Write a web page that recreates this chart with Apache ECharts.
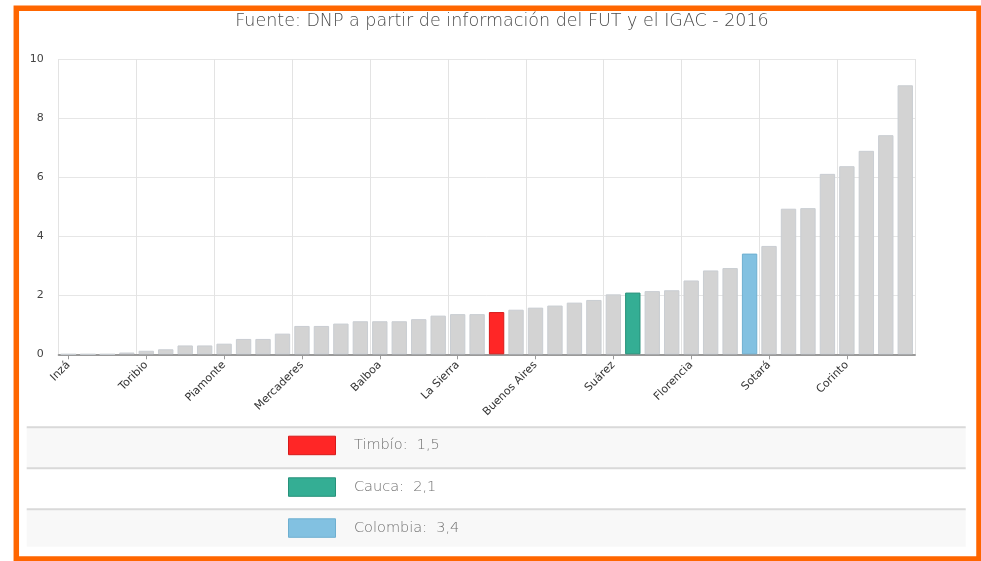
<!DOCTYPE html>
<html>
<head>
<meta charset="utf-8">
<script src="https://cdn.jsdelivr.net/npm/echarts@6/dist/echarts.min.js"></script>
<style>
html,body{margin:0;padding:0;background:#fff;}
#chart{width:981px;height:561px;}
</style>
</head>
<body>
<div id="chart"></div>
<script>
// ---- data ----
var categories = ['Inzá','Páez','Jambaló','Silvia','Toribio','Totoró','Caldono','Argelia','Piamonte','Guapí','Timbiquí','López de Micay','Mercaderes','Almaguer','Bolívar','Sucre','Balboa','Patía','Rosas','La Vega','La Sierra','San Sebastián','Timbío','Santa Rosa','Buenos Aires','Cajibío','Morales','El Tambo','Suárez','Cauca','Piendamó','Puracé','Florencia','Caloto','Guachené','Colombia','Sotará','Miranda','Padilla','Villa Rica','Corinto','Santander de Quilichao','Puerto Tejada','Popayán'];
var values = [0,0,0,0.06,0.12,0.17,0.30,0.30,0.36,0.52,0.52,0.70,0.96,0.96,1.04,1.12,1.12,1.12,1.19,1.31,1.36,1.36,1.43,1.51,1.58,1.65,1.75,1.84,2.03,2.09,2.14,2.17,2.50,2.84,2.92,3.41,3.67,4.93,4.95,6.11,6.37,6.89,7.42,9.11];
var highlightNames = ['Timbío','Cauca','Colombia'];
var highlightLabels = ['1,5','2,1','3,4'];
var yTicks = [0,2,4,6,8,10];
var subtitle = 'Fuente: DNP a partir de información del FUT y el IGAC - 2016';

// ---- styles ----
var hlColors = ['#ff2626','#34ae94','#82c1e1'];
var hlBorders = ['#d61a1a','#27917a','#6eafd0'];
var baseColor = '#d3d3d3';
var baseBorder = '#c9cdd2';

var barData = values.map(function(v,i){
  var k = highlightNames.indexOf(categories[i]);
  return {
    value: v,
    itemStyle: k >= 0 ? {color: hlColors[k], borderColor: hlBorders[k], borderWidth: 1}
                      : {color: baseColor, borderColor: baseBorder, borderWidth: 1}
  };
});

var graphics = [];
// legend table rows
var rowTops = [427.3, 468.3, 509.3];
var rowH = [41, 41, 37.4];
rowTops.forEach(function(t,i){
  if (i !== 1) {
    graphics.push({type:'rect', shape:{x:26.7, y:t, width:939, height:rowH[i]}, style:{fill:'#f8f8f8'}, silent:true, z:0});
  }
  graphics.push({type:'line', shape:{x1:26.7, y1:t, x2:965.7, y2:t}, style:{stroke:'#d9d9d9', lineWidth:2}, silent:true, z:1});
});
var boxTops = [435.7, 477.3, 518.3];
highlightNames.forEach(function(n,i){
  graphics.push({type:'rect', shape:{x:288.5, y:boxTops[i]+0.5, width:47, height:18.5},
    style:{fill:hlColors[i], stroke:hlBorders[i], lineWidth:1}, silent:true, z:2});
  graphics.push({type:'text', x:354, y:boxTops[i]+10, style:{text:n+':  '+highlightLabels[i], fill:'#707070',
    font:'300 14.5px "DejaVu Sans"', textVerticalAlign:'middle', textAlign:'left'}, silent:true, z:2});
});
// subtitle
graphics.push({type:'text', x:502, y:21, style:{text:subtitle, fill:'#4a4a4a', font:'300 17.5px "DejaVu Sans"',
  textAlign:'center', textVerticalAlign:'middle'}, silent:true, z:2});
// orange frame
graphics.push({type:'rect', shape:{x:16.3, y:8.3, width:962.7, height:550.7},
  style:{fill:'none', stroke:'#ff6600', lineWidth:5.5}, silent:true, z:5});

var chart = echarts.init(document.getElementById('chart'), null, {renderer:'canvas'});
chart.setOption({
  backgroundColor:'#fff',
  animation:false,
  grid:{left:58.7, right:66, top:59, bottom:206.7, containLabel:false},
  xAxis:{
    type:'category',
    data:categories,
    boundaryGap:true,
    axisLine:{show:true, lineStyle:{color:'#9a9a9a', width:2}},
    axisTick:{show:true, alignWithLabel:true, interval:3, length:5, lineStyle:{color:'#9a9a9a'}},
    axisLabel:{interval:3, rotate:45, margin:9, color:'#333', fontSize:11, fontFamily:'DejaVu Sans'},
    splitLine:{show:true, interval:3, lineStyle:{color:'#e3e3e3', width:1}}
  },
  yAxis:{
    type:'value',
    min:yTicks[0], max:yTicks[yTicks.length-1], interval:2,
    axisLine:{show:false},
    axisTick:{show:false},
    axisLabel:{color:'#444', fontSize:11, fontFamily:'DejaVu Sans', margin:15},
    splitLine:{show:true, lineStyle:{color:'#e6e6e6', width:1}}
  },
  series:[{
    type:'bar',
    data:barData,
    barCategoryGap:'21%',
    silent:true
  }],
  graphic:graphics
});
</script>
</body>
</html>
